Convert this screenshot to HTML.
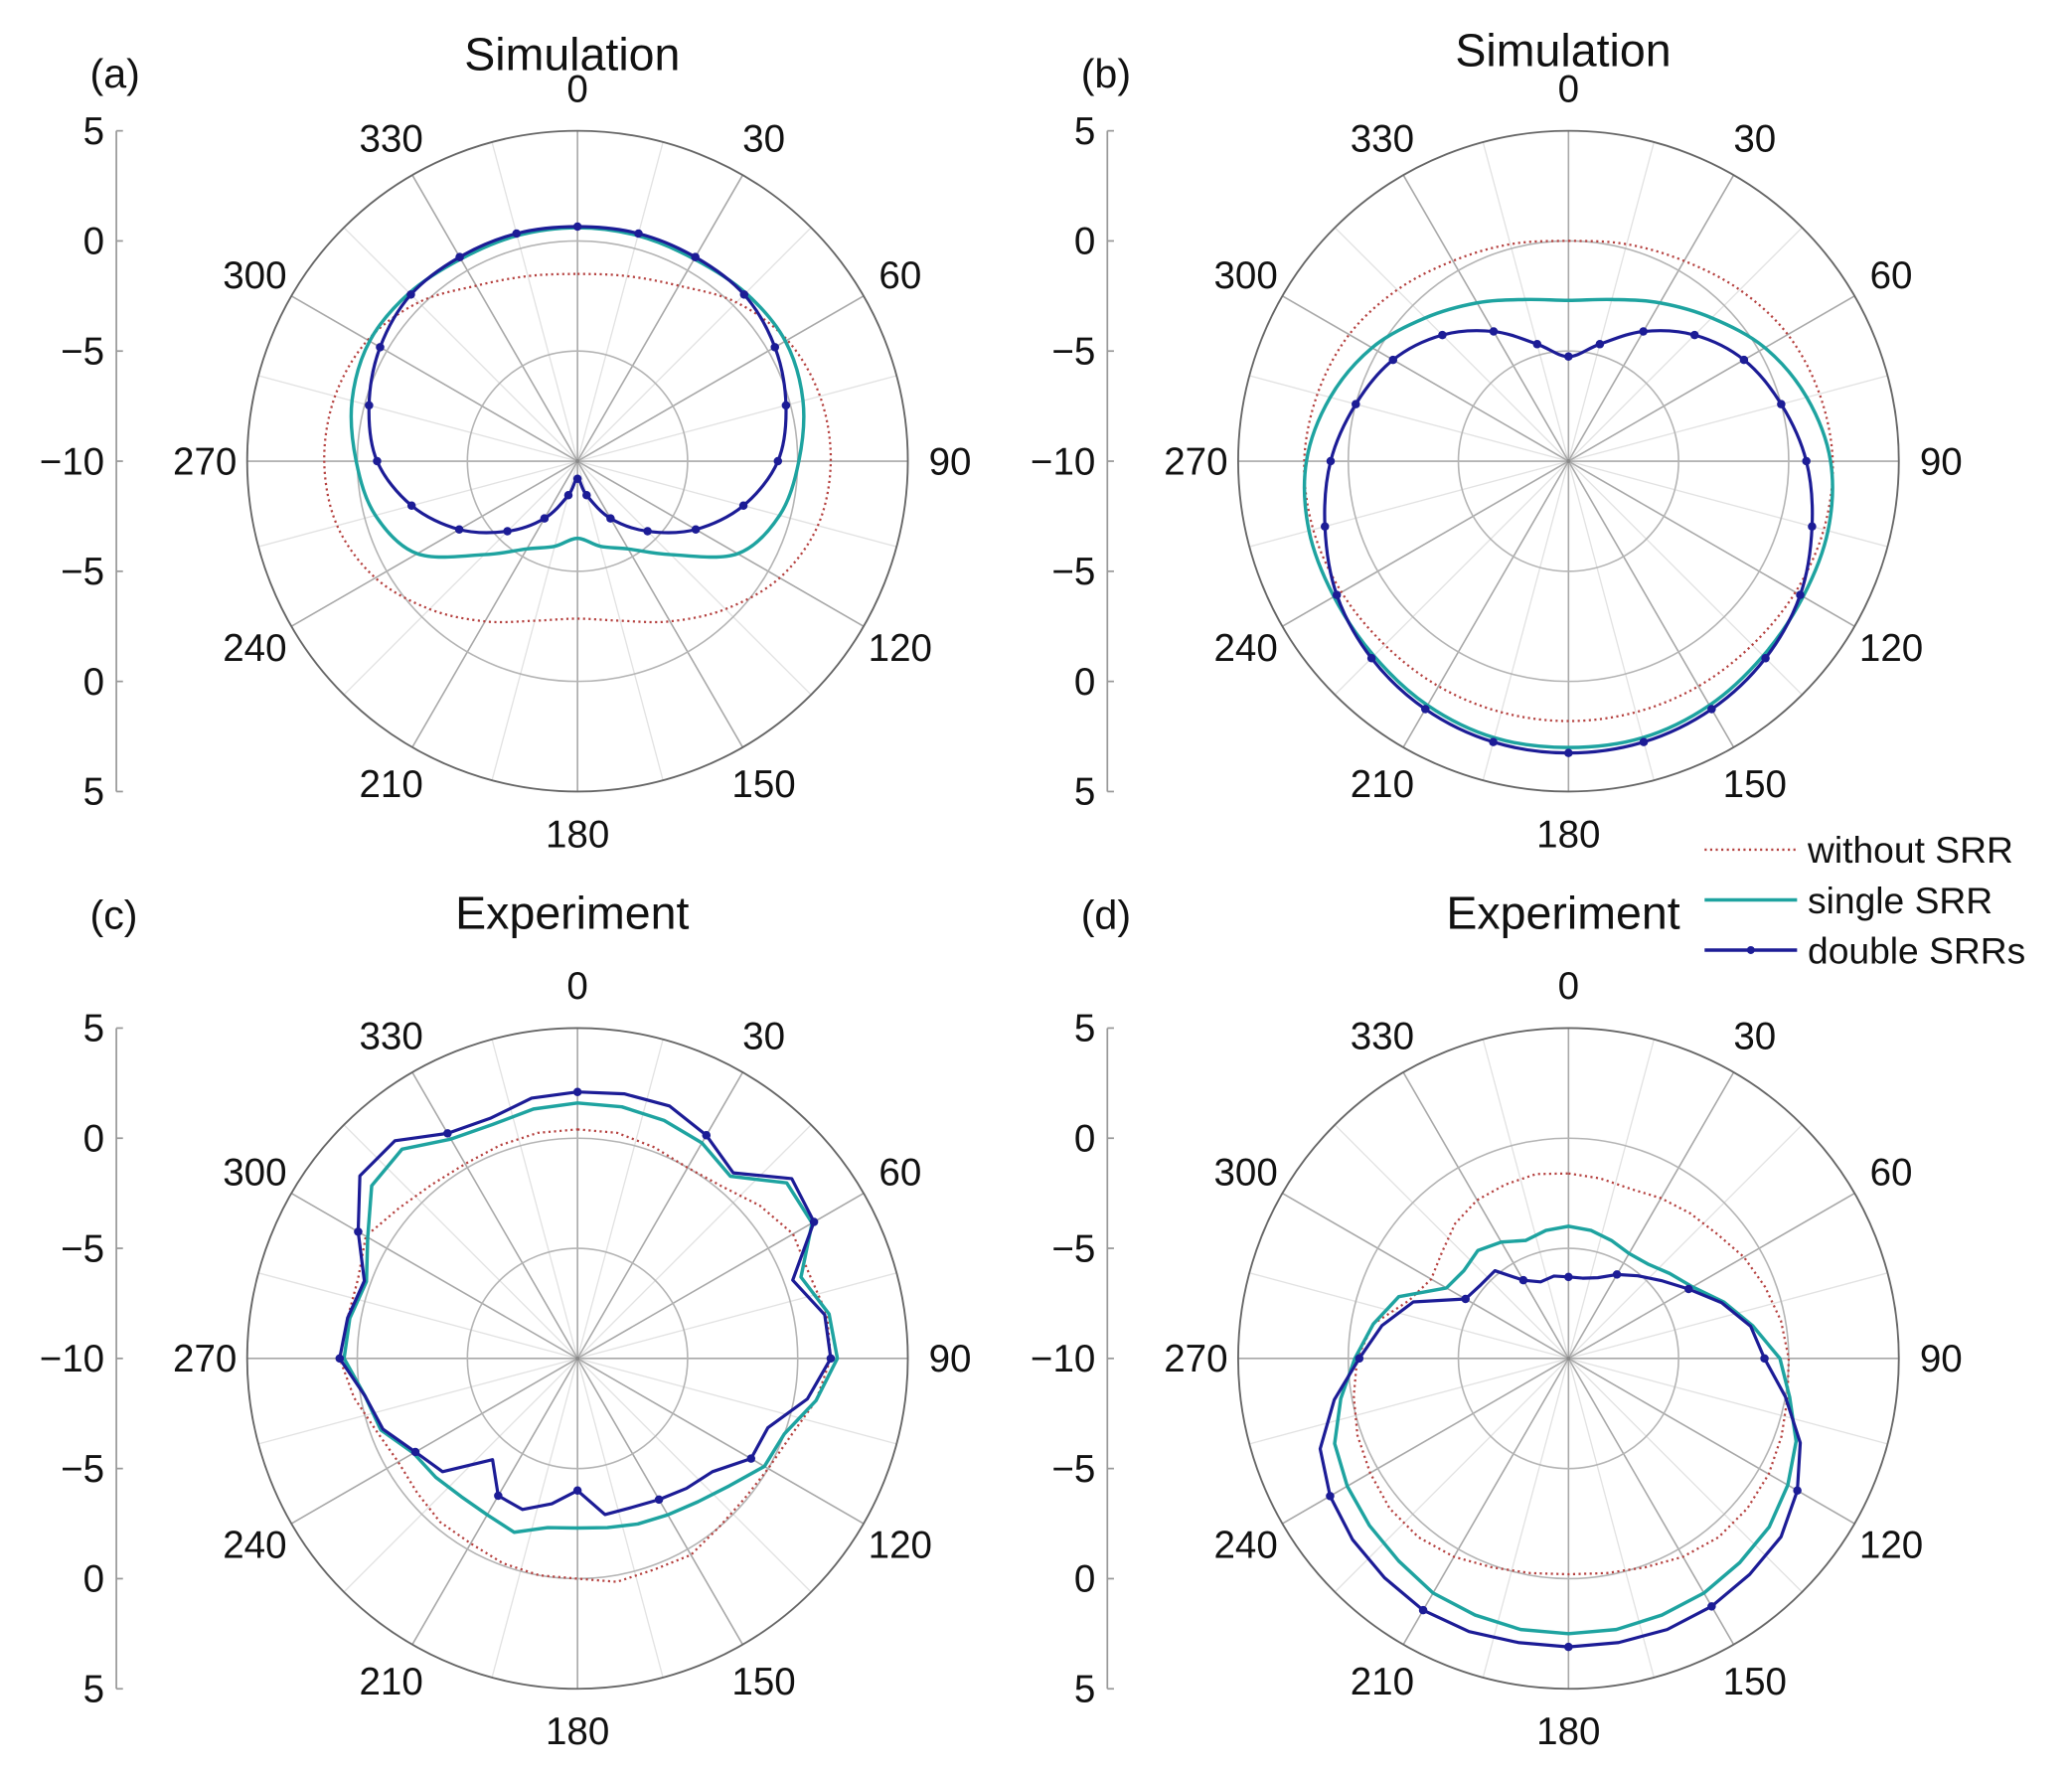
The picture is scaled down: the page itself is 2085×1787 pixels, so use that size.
<!DOCTYPE html>
<html><head><meta charset="utf-8"><style>
html,body{margin:0;padding:0;background:#fff}
svg{display:block;font-family:"Liberation Sans",Arial,sans-serif}
</style></head><body>
<svg id="fig" width="2085" height="1787" viewBox="0 0 1568 1344" xmlns="http://www.w3.org/2000/svg"></svg>
<script>
// ---- data (dB), angle 0 at top, clockwise ----
const simAngles = [0,15,30,45,60,75,90,105,120,135,150,165,180,195,210,225,240,255,270,285,300,315,330,345];
const expAngles = [0,10,20,30,40,50,60,70,80,90,100,110,120,130,140,150,160,170,180,190,200,210,220,230,240,250,260,270,280,290,300,310,320,330,340,350];
const radialTicks = [5,0,-5,-10,-5,0,5];
const angleTicks = [0,30,60,90,120,150,180,210,240,270,300,330];

const aRed  = [-1.5,-1.3,-0.8,0.2,1.0,1.4,1.5,1.3,0.6,-0.5,-1.6,-2.5,-2.85,-2.5,-1.6,-0.5,0.6,1.3,1.5,1.4,1.0,0.2,-0.8,-1.3];
const aTeal = [0.6,0.6,0.6,0.8,0.9,0.6,0.05,-0.5,-1.6,-4.0,-5.4,-6.0,-6.5,-6.0,-5.4,-4.0,-1.6,-0.5,0.05,0.6,0.9,0.8,0.6,0.6];
const aNavy = [0.65,0.7,0.7,0.7,0.35,-0.2,-0.9,-2.2,-3.8,-5.5,-7.0,-8.4,-9.2,-8.4,-7.0,-5.5,-3.8,-2.2,-0.9,-0.2,0.35,0.7,0.7,0.7];

const bRed  = [0.0,0.2,0.5,1.0,1.5,1.8,2.0,2.0,1.9,1.8,1.8,1.8,1.8,1.8,1.8,1.8,1.9,2.0,2.0,1.8,1.5,1.0,0.5,0.2];
const bTeal = [-2.7,-2.4,-1.7,-0.8,0.3,1.2,1.9,2.2,2.3,2.5,2.8,3.0,3.0,3.0,2.8,2.5,2.3,2.2,1.9,1.2,0.3,-0.8,-1.7,-2.4];
const bNavy = [-5.25,-4.5,-3.2,-1.9,-0.8,0.0,0.8,1.45,2.15,2.65,3.0,3.2,3.25,3.2,3.0,2.65,2.15,1.45,0.8,0.0,-0.8,-1.9,-3.2,-4.5];

const cRed  = [0.4,0.4,0.2,0.0,0.2,0.8,1.3,1.2,1.5,1.5,1.0,0.3,0.0,-0.1,0.0,0.3,0.2,0.3,0.0,0.0,-0.1,-0.3,-0.3,-0.5,-0.6,-0.3,0.3,0.8,0.6,0.6,1.1,0.6,0.3,0.2,0.3,0.4];
const cTeal = [1.6,1.6,1.5,1.3,0.8,2.4,2.3,0.8,1.6,1.8,1.0,0.0,-0.2,-1.0,-1.5,-1.8,-2.0,-2.2,-2.3,-2.2,-1.6,-1.8,-1.8,-1.6,-1.4,-0.5,-0.2,0.6,0.5,0.2,1.0,2.2,2.4,1.5,1.3,1.5];
const cNavy = [2.1,2.2,2.2,1.7,1.0,2.7,2.4,0.4,1.4,1.5,0.6,-0.8,-0.9,-2.0,-2.3,-2.6,-2.8,-2.8,-4.0,-3.3,-2.7,-2.8,-4.0,-2.0,-1.5,-0.6,-0.2,0.8,0.6,0.3,1.5,2.9,2.9,1.8,1.6,2.0];

const dRed  = [-1.6,-1.7,-1.8,-1.6,-1.4,-1.2,-0.8,-0.5,-0.2,0.0,0.1,0.3,0.5,0.6,0.6,0.4,0.1,-0.1,-0.2,-0.1,0.1,0.4,0.6,0.6,0.4,0.2,-0.1,-0.4,-1.0,-2.3,-2.8,-2.5,-2.0,-1.7,-1.6,-1.5];
const dTeal = [-4.0,-4.1,-4.3,-4.5,-4.4,-4.0,-3.5,-2.5,-1.5,-0.4,0.2,1.0,1.5,1.9,2.1,2.3,2.4,2.5,2.5,2.5,2.4,2.3,2.0,1.8,1.6,1.3,0.5,-0.3,-1.0,-1.8,-3.6,-3.8,-3.6,-3.9,-4.3,-4.1];
const dNavy = [-6.3,-6.3,-6.1,-5.6,-5.1,-4.5,-3.7,-2.6,-1.6,-1.1,0.0,1.2,2.0,2.6,2.8,3.0,3.1,3.1,3.1,3.1,3.2,3.2,3.0,2.8,2.5,2.0,0.8,-0.5,-1.4,-2.5,-4.6,-4.8,-4.8,-5.9,-6.3,-6.2];

const NS = "http://www.w3.org/2000/svg";
const svg = document.getElementById('fig');
const R = 250, RMIN = -10, RMAX = 5;
const RED = "#b5413f", TEAL = "#1ea3a0", NAVY = "#1c1c96";

function mk(tag, attrs, parent){
  const e = document.createElementNS(NS, tag);
  for (const k in attrs) e.setAttribute(k, attrs[k]);
  (parent||svg).appendChild(e);
  return e;
}
function rScale(db){ return Math.max(0,(db - RMIN)/(RMAX - RMIN)) * R; }
function pt(cx, cy, ang, db){
  const r = rScale(db), t = ang*Math.PI/180;
  return [cx + r*Math.sin(t), cy - r*Math.cos(t)];
}
function smoothPath(pts){
  const n = pts.length; let d = `M${pts[0][0].toFixed(2)},${pts[0][1].toFixed(2)}`;
  for (let i=0;i<n;i++){
    const p0=pts[(i-1+n)%n], p1=pts[i], p2=pts[(i+1)%n], p3=pts[(i+2)%n];
    const c1=[p1[0]+(p2[0]-p0[0])/6, p1[1]+(p2[1]-p0[1])/6];
    const c2=[p2[0]-(p3[0]-p1[0])/6, p2[1]-(p3[1]-p1[1])/6];
    d += ` C${c1[0].toFixed(2)},${c1[1].toFixed(2)} ${c2[0].toFixed(2)},${c2[1].toFixed(2)} ${p2[0].toFixed(2)},${p2[1].toFixed(2)}`;
  }
  return d + 'Z';
}
function linePath(pts){ return 'M' + pts.map(p=>p[0].toFixed(2)+','+p[1].toFixed(2)).join(' L') + 'Z'; }

function panel(id, cx, cy, title, titleY, labelY, label, angles, red, teal, navy, smooth, markEvery){
  const g = mk('g', {});
  
  
  const lbl = mk('text', {x: cx-369, y: labelY, 'font-size': 31, fill: '#111'}, g);
  lbl.textContent = label;
  
  
  const tt = mk('text', {x: cx - 4, y: titleY, 'font-size': 35, 'text-anchor': 'middle', fill: '#111'}, g);
  tt.textContent = title;
  
  
  for (let a=15;a<360;a+=30){
    const p = pt(cx, cy, a, RMAX);
    const l = mk('line', {x1: cx, y1: cy, x2: p[0], y2: p[1], stroke: '#e2e2e2', 'stroke-width': 1}, g);
    
    
  }
  angleTicks.forEach(a=>{
    const p = pt(cx, cy, a, RMAX);
    const l = mk('line', {x1: cx, y1: cy, x2: p[0], y2: p[1], stroke: '#a8a8a8', 'stroke-width': 1.2}, g);
    
    
    const t = a*Math.PI/180, rr = R + 32;
    const tx = mk('text', {x: cx + rr*Math.sin(t), y: cy - rr*Math.cos(t) + 10, 'font-size': 29, 'text-anchor': 'middle', fill: '#111'}, g);
    tx.textContent = a;
    
    
  });
  [-5, 0].forEach(v=>{
    const c = mk('circle', {cx: cx, cy: cy, r: rScale(v), fill: 'none', stroke: '#b4b4b4', 'stroke-width': 1.2}, g);
    
    
  });
  const oc = mk('circle', {cx: cx, cy: cy, r: R, fill: 'none', stroke: '#666', 'stroke-width': 1.4}, g);
  
  
  const ax = cx - 349;
  const al = mk('line', {x1: ax, y1: cy - R, x2: ax, y2: cy + R, stroke: '#999', 'stroke-width': 1.3}, g);
  
  
  radialTicks.forEach((v,i)=>{
    const y = cy - R + i*R/3;
    const tk = mk('line', {x1: ax, y1: y, x2: ax+5, y2: y, stroke: '#999', 'stroke-width': 1.3}, g);
    
    
    const tx = mk('text', {x: ax - 9, y: y + 10, 'font-size': 29, 'text-anchor': 'end', fill: '#111'}, g);
    tx.textContent = v < 0 ? '\u2212' + Math.abs(v) : v;
    
    
  });
  const series = [
    {vals: red, color: RED, w: 1.7, dash: '1.6 2.6', name: 'series-without-srr'},
    {vals: teal, color: TEAL, w: 2.6, dash: null, name: 'series-single-srr'},
    {vals: navy, color: NAVY, w: 2.4, dash: null, name: 'series-double-srrs'}
  ];
  series.forEach(s=>{
    const pts = angles.map((a,i)=>pt(cx, cy, a, s.vals[i]));
    const attrs = {d: smooth ? smoothPath(pts) : linePath(pts), fill: 'none', stroke: s.color, 'stroke-width': s.w, 'stroke-linejoin': 'round'};
    if (s.dash) attrs['stroke-dasharray'] = s.dash;
    const p = mk('path', attrs, g);
    
    
  });
  angles.forEach((a,i)=>{
    if (i % markEvery) return;
    const p = pt(cx, cy, a, navy[i]);
    const m = mk('circle', {cx: p[0], cy: p[1], r: 3.2, fill: NAVY}, g);
    
    
  });
  const cd = mk('circle', {cx: cx, cy: cy, r: 1.5, fill: '#888'}, g);
  
  
}

panel('a', 437, 349, 'Simulation', 53, 66, '(a)', simAngles, aRed, aTeal, aNavy, true, 1);
panel('b', 1187, 349, 'Simulation', 50, 66, '(b)', simAngles, bRed, bTeal, bNavy, true, 1);
panel('c', 437, 1028, 'Experiment', 703, 703, '(c)', expAngles, cRed, cTeal, cNavy, false, 3);
panel('d', 1187, 1028, 'Experiment', 703, 703, '(d)', expAngles, dRed, dTeal, dNavy, false, 3);

const lg = mk('g', {});


const legItems = [['without SRR', RED, '1.6 2.6', 643], ['single SRR', TEAL, null, 681], ['double SRRs', NAVY, null, 719]];
legItems.forEach(it=>{
  const la = {x1: 1290, y1: it[3], x2: 1360, y2: it[3], stroke: it[1], 'stroke-width': it[2] ? 1.7 : 2.6};
  if (it[2]) la['stroke-dasharray'] = it[2];
  const l = mk('line', la, lg);
  
  
  const t = mk('text', {x: 1368, y: it[3] + 10, 'font-size': 28, fill: '#111'}, lg);
  t.textContent = it[0];
  
  
});
const lm = mk('circle', {cx: 1325, cy: 719, r: 3, fill: NAVY}, lg);


</script>
</body></html>
